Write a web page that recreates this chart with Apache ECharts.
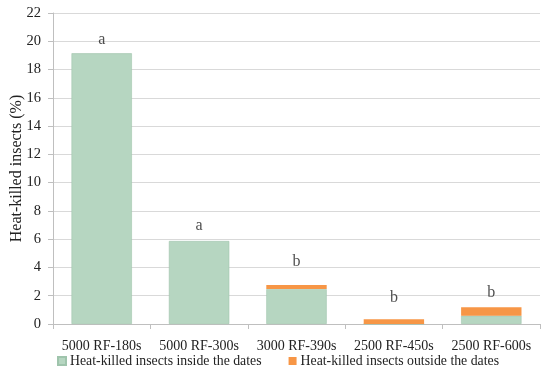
<!DOCTYPE html>
<html><head><meta charset="utf-8">
<script src="https://cdn.jsdelivr.net/npm/echarts@6/dist/echarts.min.js"></script>
<style>html,body{margin:0;padding:0;background:#fff}#c{width:550px;height:382px}</style>
</head><body><div id="c"></div>
<script>
var categories = ['5000 RF-180s', '5000 RF-300s', '3000 RF-390s', '2500 RF-450s', '2500 RF-600s'];
var insideValues = [19.15, 5.87, 2.47, 0, 0.59];
var outsideValues = [0, 0, 0.29, 0.33, 0.59];
var letters = ['a', 'a', 'b', 'b', 'b'];
var letterHeights = [20.1, 6.93, 4.38, 1.84, 2.19];
var yTicks = [0, 2, 4, 6, 8, 10, 12, 14, 16, 18, 20, 22];

var serif = '"Liberation Serif", "DejaVu Serif", serif';
var chart = echarts.init(document.getElementById('c'), null, {renderer: 'canvas'});
chart.setOption({
  animation: false,
  grid: {left: 53, right: 10, top: 13, bottom: 58, containLabel: false, outerBoundsMode: 'none'},
  legend: {
    bottom: 9, left: 52, itemWidth: 8, itemHeight: 8, itemGap: 27,
    icon: 'rect',
    textStyle: {fontFamily: serif, fontSize: 13.8, color: '#222', padding: [0, 0, 0, -1]},
    data: ['Heat-killed insects inside the dates', 'Heat-killed insects outside the dates']
  },
  xAxis: {
    type: 'category', data: categories,
    axisLine: {lineStyle: {color: '#bfbfbf'}},
    axisTick: {show: true, length: 5, lineStyle: {color: '#bfbfbf'}},
    axisLabel: {interval: 0, fontFamily: serif, fontSize: 14, color: '#222', margin: 15}
  },
  yAxis: {
    type: 'value', min: yTicks[0], max: yTicks[yTicks.length - 1], interval: 2,
    name: 'Heat-killed insects (%)', nameLocation: 'middle', nameGap: 28, nameMoveOverlap: false,
    nameTextStyle: {fontFamily: serif, fontSize: 16, color: '#222'},
    axisLine: {show: true, lineStyle: {color: '#bfbfbf'}},
    axisTick: {show: true, length: 5, lineStyle: {color: '#bfbfbf'}},
    axisLabel: {fontFamily: serif, fontSize: 14.5, color: '#222', margin: 12},
    splitLine: {lineStyle: {color: '#d9d9d9'}}
  },
  series: [
    {
      name: 'Heat-killed insects inside the dates', type: 'bar', stack: 't',
      data: insideValues, barWidth: '62%',
      itemStyle: {color: '#b6d6c1', borderColor: '#9fc4ac', borderWidth: 0.6}
    },
    {
      name: 'Heat-killed insects outside the dates', type: 'bar', stack: 't',
      data: outsideValues, barWidth: '62%',
      itemStyle: {color: '#f79646'}
    },
    {
      type: 'scatter', symbolSize: 0, silent: true,
      data: letterHeights.map(function (v, i) { return {value: [categories[i], v], name: letters[i]}; }),
      label: {show: true, position: 'inside', formatter: function (p) { return p.name; },
        fontFamily: serif, fontSize: 16, color: '#222'}
    }
  ]
});
</script></body></html>
